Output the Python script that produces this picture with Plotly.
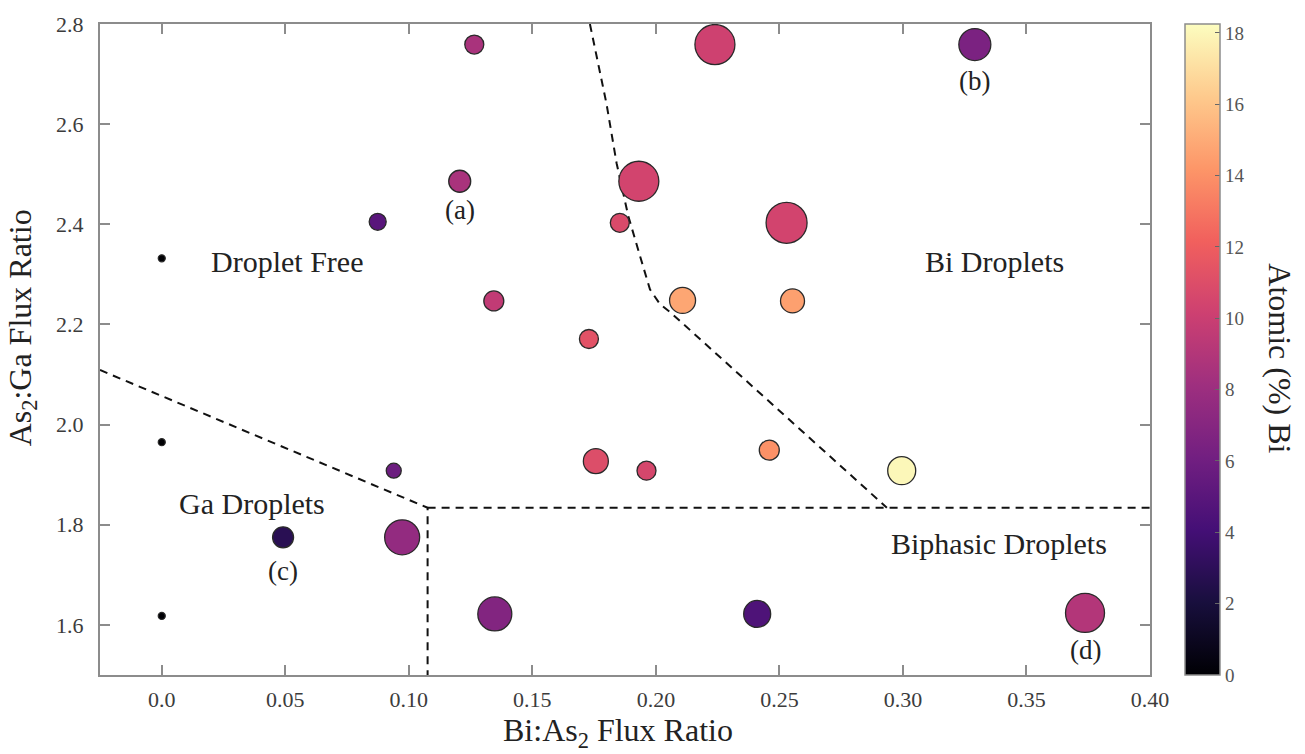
import plotly.graph_objects as go

# Growth conditions: Bi:As2 flux ratio, As2:Ga flux ratio, Bi content (at. %), relative bubble size
bi_as2 = [0.0, 0.0, 0.0, 0.0491, 0.0973, 0.0874, 0.0939, 0.1265, 0.1206, 0.1344,
          0.1729, 0.1854, 0.1931, 0.2239, 0.2529, 0.2108, 0.2553, 0.3291, 0.1757,
          0.1962, 0.2459, 0.2995, 0.1348, 0.2410, 0.3737]
as2_ga = [2.332, 1.965, 1.618, 1.775, 1.775, 2.405, 1.908, 2.759, 2.486, 2.247,
          2.171, 2.403, 2.486, 2.759, 2.403, 2.248, 2.247, 2.759, 1.927,
          1.908, 1.949, 1.908, 1.622, 1.622, 1.624]
bi_pct = [0.0, 0.0, 0.0, 2.8, 7.6, 5.0, 5.8, 8.6, 8.6, 9.6,
          11.3, 10.8, 10.4, 10.2, 10.4, 14.8, 14.6, 6.5, 11.0,
          10.6, 14.0, 18.0, 6.8, 4.5, 9.0]
bubble = [7, 7, 7, 21, 35, 17, 15, 19, 22, 20,
          19, 19, 40, 40, 41, 26, 24, 32, 25,
          19, 20, 28, 34, 27, 39]

# Region boundaries (data units)
ga_edge_x = [-0.025, 0.1076, 0.1076]
ga_edge_y = [2.109, 1.834, 1.50]
biphasic_x = [0.1076, 0.40]
biphasic_y = [1.834, 1.834]
bi_edge_x = [0.1733, 0.1800, 0.1841, 0.1888, 0.1935, 0.1976, 0.2016, 0.2057, 0.2935]
bi_edge_y = [2.800, 2.641, 2.522, 2.417, 2.338, 2.270, 2.241, 2.225, 1.834]

# Region names and sample tags
regions = ["Droplet Free", "Bi Droplets", "Ga Droplets", "Biphasic Droplets"]
region_x = [0.0505, 0.337, 0.0365, 0.339]
region_y = [2.325, 2.325, 1.843, 1.762]
tags = ["(a)", "(b)", "(c)", "(d)"]
tag_x = [0.1206, 0.3291, 0.0491, 0.3737]
tag_y = [2.428, 2.686, 1.708, 1.549]

x_ticks = [0.0, 0.05, 0.10, 0.15, 0.20, 0.25, 0.30, 0.35, 0.40]
x_ticktext = ["0.0", "0.05", "0.10", "0.15", "0.20", "0.25", "0.30", "0.35", "0.40"]
y_ticks = [1.6, 1.8, 2.0, 2.2, 2.4, 2.6, 2.8]
y_ticktext = ["1.6", "1.8", "2.0", "2.2", "2.4", "2.6", "2.8"]
cb_ticks = [0, 2, 4, 6, 8, 10, 12, 14, 16, 18]

SERIF = "Liberation Serif, Times New Roman, serif"
AXIS_GRAY = "#8c8c8c"

fig = go.Figure()

dash_line = dict(color="#111111", width=2, dash="8px,6px")
for bx, by in [(ga_edge_x, ga_edge_y), (biphasic_x, biphasic_y), (bi_edge_x, bi_edge_y)]:
    fig.add_trace(go.Scatter(x=bx, y=by, mode="lines", line=dash_line,
                             hoverinfo="skip", showlegend=False))

fig.add_trace(go.Scatter(
    x=bi_as2, y=as2_ga, mode="markers", showlegend=False,
    marker=dict(
        size=bubble, color=bi_pct, colorscale="Magma", cmin=0, cmax=18.25,
        opacity=1, line=dict(color="#2a2a2a", width=1.3),
        colorbar=dict(
            thickness=35, thicknessmode="pixels", len=1, lenmode="fraction",
            x=1.0333, xanchor="left", xpad=0, y=0.5, yanchor="middle", ypad=0,
            outlinecolor=AXIS_GRAY, outlinewidth=1.5,
            tickvals=cb_ticks, ticks="inside", ticklen=5, tickwidth=1.2,
            tickcolor="#666666",
            tickfont=dict(family=SERIF, size=19, color="#555555"),
        ),
    ),
))

axis_common = dict(
    showline=True, linecolor=AXIS_GRAY, linewidth=2, mirror="ticks",
    ticks="inside", ticklen=10, tickwidth=1.5, tickcolor=AXIS_GRAY,
    showgrid=False, zeroline=False,
    tickfont=dict(family=SERIF, size=22, color="#3c3c3c"),
)

fig.update_layout(
    width=1305, height=754,
    margin=dict(l=100, r=155, t=20, b=79),
    paper_bgcolor="white", plot_bgcolor="white",
    font=dict(family=SERIF, color="#222222"),
    xaxis=dict(range=[-0.025, 0.40], tickvals=x_ticks, ticktext=x_ticktext,
               ticklabelstandoff=4, **axis_common),
    yaxis=dict(range=[1.50, 2.80], tickvals=y_ticks, ticktext=y_ticktext,
               ticklabelstandoff=10, **axis_common),
)

for name, rx, ry in zip(regions, region_x, region_y):
    fig.add_annotation(x=rx, y=ry, text=name, showarrow=False,
                       font=dict(family=SERIF, size=30, color="#222222"))
for tag, tx, ty in zip(tags, tag_x, tag_y):
    fig.add_annotation(x=tx, y=ty, text=tag, showarrow=False,
                       font=dict(family=SERIF, size=27, color="#222222"))

# Axis and colorbar titles
fig.add_annotation(xref="paper", yref="paper", x=0.4933, y=-0.088, yanchor="middle",
                   text="Bi:As<sub>2</sub> Flux Ratio", showarrow=False,
                   font=dict(family=SERIF, size=32, color="#222222"))
fig.add_annotation(xref="paper", yref="paper", x=-0.0743, y=0.534, xanchor="center",
                   text="As<sub>2</sub>:Ga Flux Ratio", showarrow=False, textangle=-90,
                   font=dict(family=SERIF, size=32, color="#222222"))
fig.add_annotation(xref="paper", yref="paper", x=1.1235, y=0.487,
                   xanchor="center", yanchor="middle",
                   text="Atomic (%) Bi", showarrow=False, textangle=90,
                   font=dict(family=SERIF, size=32, color="#222222"))

fig.write_html("out.html")
